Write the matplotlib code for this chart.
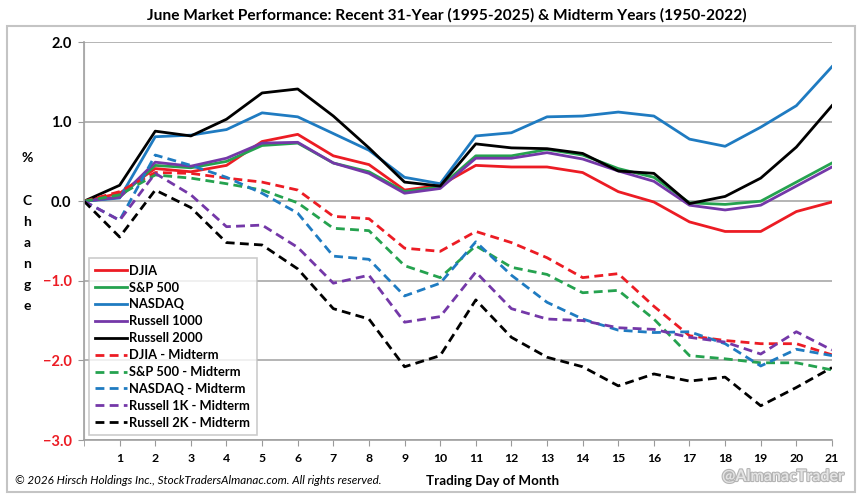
import matplotlib

matplotlib.use("Agg")
import matplotlib.pyplot as plt
import matplotlib.patheffects as pe
from matplotlib.patches import Rectangle

plt.rcParams["font.family"] = ["Lato", "DejaVu Sans"]
plt.rcParams["font.weight"] = "bold"

days = list(range(22))
xticks = list(range(1, 22))
yticks = [-3, -2, -1, 0, 1, 2]

djia = [0, 0.10, 0.41, 0.37, 0.45, 0.75, 0.84, 0.57, 0.46, 0.14, 0.20,
        0.45, 0.43, 0.43, 0.36, 0.12, -0.01, -0.26, -0.38, -0.38, -0.13, -0.01]
sp500 = [0, 0.05, 0.45, 0.42, 0.50, 0.70, 0.73, 0.48, 0.37, 0.12, 0.18,
         0.57, 0.57, 0.65, 0.58, 0.41, 0.30, -0.02, -0.04, 0.0, 0.24, 0.48]
nasdaq = [0, 0.04, 0.81, 0.83, 0.90, 1.11, 1.06, 0.85, 0.64, 0.30, 0.22,
          0.82, 0.86, 1.06, 1.07, 1.12, 1.07, 0.78, 0.69, 0.93, 1.20, 1.69]
russell1000 = [0, 0.05, 0.49, 0.44, 0.54, 0.73, 0.74, 0.48, 0.35, 0.10, 0.16,
               0.54, 0.54, 0.61, 0.53, 0.38, 0.25, -0.05, -0.11, -0.05, 0.19, 0.43]
russell2000 = [0, 0.20, 0.88, 0.82, 1.03, 1.36, 1.41, 1.07, 0.67, 0.24, 0.19,
               0.72, 0.67, 0.66, 0.60, 0.38, 0.35, -0.03, 0.06, 0.29, 0.68, 1.20]
djia_mid = [0, 0.12, 0.36, 0.35, 0.29, 0.24, 0.14, -0.19, -0.22, -0.59, -0.63,
            -0.38, -0.52, -0.71, -0.96, -0.91, -1.32, -1.69, -1.75, -1.79, -1.79, -1.93]
sp500_mid = [0, 0.08, 0.33, 0.29, 0.22, 0.14, -0.02, -0.34, -0.37, -0.81, -0.96,
             -0.56, -0.83, -0.92, -1.15, -1.12, -1.48, -1.94, -1.98, -2.03, -2.03, -2.12]
nasdaq_mid = [0, -0.24, 0.58, 0.45, 0.30, 0.10, -0.15, -0.69, -0.73, -1.19, -1.03,
              -0.51, -0.93, -1.27, -1.48, -1.62, -1.65, -1.64, -1.79, -2.07, -1.86, -1.94]
russell1k_mid = [0, -0.24, 0.35, 0.08, -0.32, -0.30, -0.58, -1.03, -0.93, -1.52, -1.45,
                 -0.89, -1.35, -1.48, -1.50, -1.59, -1.61, -1.71, -1.77, -1.92, -1.64, -1.87]
russell2k_mid = [0, -0.45, 0.14, -0.08, -0.52, -0.55, -0.85, -1.35, -1.48, -2.08, -1.94,
                 -1.24, -1.71, -1.96, -2.08, -2.32, -2.17, -2.26, -2.21, -2.57, -2.34, -2.09]

RED, GREEN, BLUE, PURPLE, BLACK = "#EC1C24", "#25A24F", "#1F7BC1", "#7438A8", "#000000"

series = [
    ("DJIA", djia, RED, "-"),
    ("S&P 500", sp500, GREEN, "-"),
    ("NASDAQ", nasdaq, BLUE, "-"),
    ("Russell 1000", russell1000, PURPLE, "-"),
    ("Russell 2000", russell2000, BLACK, "-"),
    ("DJIA - Midterm", djia_mid, RED, "--"),
    ("S&P 500 - Midterm", sp500_mid, GREEN, "--"),
    ("NASDAQ - Midterm", nasdaq_mid, BLUE, "--"),
    ("Russell 1K - Midterm", russell1k_mid, PURPLE, "--"),
    ("Russell 2K - Midterm", russell2k_mid, BLACK, "--"),
]

fig = plt.figure(figsize=(8.6, 4.96), dpi=100)
ax = fig.add_axes([0.0977, 0.1129, 0.8697, 0.8024])

for label, vals, color, ls in series:
    if ls == "--":
        ax.plot(days, vals, color=color, lw=2.0, dashes=(3.2, 1.9), label=label)
    else:
        ax.plot(days, vals, color=color, lw=2.0, label=label)

ax.set_xlim(0, 21)
ax.set_ylim(-3, 2)
ax.set_xticks(xticks)
ax.set_yticks(yticks)
ax.set_xticks(range(0, 22), minor=True)
ax.grid(axis="y", color="#A8A8A8", lw=1.2)
ax.grid(axis="x", which="minor", color="#DCDCDC", lw=0.9)
ax.set_axisbelow(True)
ax.tick_params(axis="x", which="both", length=4, color="#9A9A9A", labelsize=8.8, pad=5)
ax.tick_params(axis="y", length=4, color="#9A9A9A", labelsize=10.5, pad=5)
ax.set_yticklabels([f"{v:.1f}".replace("-", "\u2212") for v in yticks])
for t, v in zip(ax.get_yticklabels(), yticks):
    t.set_color(RED if v < 0 else "black")
for s in ("top", "right"):
    ax.spines[s].set_visible(False)
for s in ("left", "bottom"):
    ax.spines[s].set_color("#A0A0A0")
    ax.spines[s].set_linewidth(1.2)

leg = ax.legend(loc="lower left", bbox_to_anchor=(0.006, 0.012), borderaxespad=0,
                fontsize=9.3, frameon=True, fancybox=False, handlelength=2.5,
                handletextpad=0.15, labelspacing=0.38, borderpad=0.5)
leg.get_frame().set_edgecolor("#BFBFBF")
leg.get_frame().set_linewidth(1.2)

fig.text(0.52, 0.970, "June Market Performance: Recent 31-Year (1995-2025) & Midterm Years (1950-2022)",
         ha="center", va="center", fontsize=11.2, fontweight="bold")

# vertical axis label, one letter per line
fig.text(27 / 860, 1 - 158 / 496, "%", ha="center", va="center", fontsize=10)
for i, ch in enumerate("Change"):
    fig.text(27 / 860, 1 - (201 + 21 * i) / 496, ch, ha="center", va="center", fontsize=10)

fig.text(493 / 860, 1 - 481 / 496, "Trading Day of Month", ha="center", va="center",
         fontsize=9.6, fontweight="bold")
fig.text(15 / 860, 1 - 481 / 496,
         "\u00a9 2026 Hirsch Holdings Inc., StockTradersAlmanac.com. All rights reserved.",
         ha="left", va="center", fontsize=8.4, style="italic", fontweight="normal")
fig.text(783 / 860, 1 - 477 / 496, "@AlmanacTrader", ha="center", va="center",
         fontsize=11.5, color="#E4E4E4", fontweight="bold",
         path_effects=[pe.withStroke(linewidth=1.6, foreground="#B4B4B4")])

fig.patches.append(Rectangle((7 / 860, 4 / 496), 848 / 860, 466 / 496,
                             transform=fig.transFigure, fill=False,
                             edgecolor="#C4C4C4", lw=1.5))

fig.savefig("out.png", dpi=100, facecolor="white")
